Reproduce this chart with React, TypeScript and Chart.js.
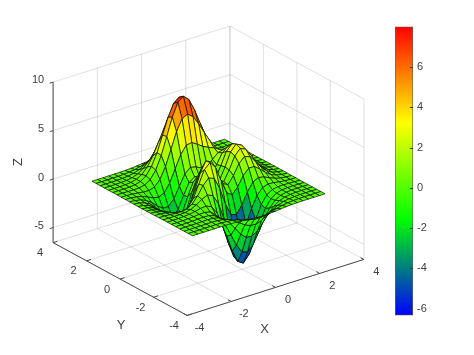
import React, { useEffect, useRef } from "react";
import { Chart, registerables } from "chart.js";

Chart.register(...registerables);

// mesh coordinates
const xValues = [-3,-2.75,-2.5,-2.25,-2,-1.75,-1.5,-1.25,-1,-0.75,-0.5,-0.25,0,0.25,0.5,0.75,1,1.25,1.5,1.75,2,2.25,2.5,2.75,3];
const yValues = [-3,-2.75,-2.5,-2.25,-2,-1.75,-1.5,-1.25,-1,-0.75,-0.5,-0.25,0,0.25,0.5,0.75,1,1.25,1.5,1.75,2,2.25,2.5,2.75,3];

// heights, one row per y value (ascending), one column per x value (ascending).
// Provenance: these are not pixel measurements. Much of the surface is hidden in
// the picture, so the shape was recognised as MATLAB's peaks surface and these
// literals were worked out by hand from it, then checked against the picture.
const zRows = [
  [0,0,0,0,0,0.01,0,-0.01,-0.03,-0.07,-0.14,-0.2,-0.24,-0.25,-0.22,-0.17,-0.11,-0.06,-0.03,-0.01,0,0,0,0,0],
  [0,0,0,0,0.01,0.01,0,-0.02,-0.1,-0.22,-0.39,-0.56,-0.68,-0.69,-0.61,-0.46,-0.3,-0.17,-0.08,-0.03,-0.01,0,0,0,0],
  [0,0,0,0.01,0.01,0.02,0,-0.07,-0.23,-0.53,-0.92,-1.31,-1.57,-1.61,-1.41,-1.06,-0.69,-0.38,-0.18,-0.08,-0.03,-0.01,0,0,0],
  [0,0,0.01,0.01,0.03,0.04,0.01,-0.12,-0.44,-1,-1.74,-2.51,-3.02,-3.1,-2.72,-2.05,-1.32,-0.73,-0.35,-0.14,-0.05,-0.01,0,0,0],
  [0,0,0.01,0.02,0.05,0.07,0.05,-0.13,-0.59,-1.45,-2.64,-3.88,-4.76,-4.93,-4.35,-3.27,-2.1,-1.15,-0.53,-0.2,-0.06,-0.01,0,0,0],
  [0,0,0.01,0.03,0.07,0.13,0.15,0.02,-0.46,-1.48,-3.01,-4.7,-5.98,-6.33,-5.64,-4.24,-2.69,-1.42,-0.61,-0.21,-0.04,0,0.01,0,0],
  [0,0,0.01,0.03,0.08,0.19,0.33,0.39,0.15,-0.68,-2.19,-4.08,-5.68,-6.33,-5.76,-4.32,-2.64,-1.27,-0.44,-0.07,0.04,0.05,0.03,0.01,0],
  [0,-0.01,-0.01,-0.01,0.03,0.17,0.45,0.84,1.11,0.88,-0.14,-1.85,-3.61,-4.6,-4.4,-3.22,-1.74,-0.56,0.08,0.27,0.23,0.13,0.06,0.02,0.01],
  [-0.01,-0.02,-0.06,-0.1,-0.13,-0.04,0.3,0.98,1.86,2.45,2.23,1,-0.72,-2.02,-2.22,-1.43,-0.27,0.58,0.88,0.77,0.5,0.26,0.11,0.04,0.01],
  [-0.02,-0.05,-0.12,-0.26,-0.42,-0.51,-0.28,0.49,1.78,3.09,3.63,2.94,1.4,-0.01,-0.41,0.2,1.18,1.79,1.78,1.35,0.82,0.42,0.18,0.06,0.02],
  [-0.03,-0.08,-0.2,-0.44,-0.8,-1.16,-1.21,-0.6,0.8,2.49,3.55,3.3,2,0.7,0.39,1.14,2.2,2.76,2.56,1.88,1.12,0.56,0.24,0.09,0.03],
  [-0.03,-0.1,-0.27,-0.6,-1.14,-1.78,-2.16,-1.84,-0.57,1.23,2.56,2.63,1.58,0.53,0.48,1.5,2.76,3.37,3.09,2.25,1.34,0.67,0.28,0.1,0.03],
  [-0.04,-0.11,-0.3,-0.69,-1.33,-2.14,-2.77,-2.71,-1.65,0.06,1.48,1.75,0.98,0.19,0.38,1.57,2.94,3.58,3.27,2.37,1.41,0.7,0.3,0.11,0.03],
  [-0.04,-0.11,-0.29,-0.68,-1.32,-2.16,-2.87,-2.98,-2.15,-0.65,0.68,1.06,0.52,-0.03,0.28,1.47,2.76,3.36,3.06,2.22,1.32,0.66,0.28,0.1,0.03],
  [-0.03,-0.09,-0.25,-0.57,-1.12,-1.85,-2.49,-2.64,-2,-0.76,0.39,0.8,0.46,0.09,0.38,1.34,2.38,2.83,2.56,1.85,1.09,0.54,0.23,0.08,0.03],
  [-0.02,-0.07,-0.18,-0.42,-0.82,-1.33,-1.76,-1.78,-1.16,-0.05,1.04,1.55,1.42,1.12,1.17,1.65,2.17,2.32,1.99,1.4,0.82,0.41,0.17,0.06,0.02],
  [-0.01,-0.04,-0.11,-0.25,-0.48,-0.74,-0.86,-0.6,0.23,1.51,2.79,3.59,3.69,3.34,2.94,2.66,2.43,2.09,1.58,1.04,0.58,0.28,0.12,0.04,0.01],
  [-0.01,-0.02,-0.06,-0.12,-0.2,-0.23,-0.05,0.55,1.69,3.29,4.92,6.07,6.39,5.94,5.02,3.97,2.97,2.09,1.35,0.79,0.41,0.19,0.07,0.03,0.01],
  [0,-0.01,-0.02,-0.03,-0.01,0.11,0.48,1.28,2.61,4.38,6.2,7.54,8,7.48,6.25,4.72,3.26,2.05,1.19,0.62,0.29,0.12,0.05,0.02,0],
  [0,0,0,0.01,0.07,0.24,0.65,1.43,2.67,4.29,5.96,7.22,7.68,7.2,5.99,4.45,2.96,1.78,0.96,0.47,0.21,0.08,0.03,0.01,0],
  [0,0,0.01,0.02,0.08,0.23,0.55,1.16,2.1,3.31,4.56,5.51,5.86,5.5,4.57,3.37,2.21,1.29,0.68,0.32,0.13,0.05,0.02,0.01,0],
  [0,0,0.01,0.02,0.06,0.16,0.36,0.74,1.32,2.07,2.84,3.43,3.65,3.43,2.84,2.09,1.36,0.79,0.41,0.19,0.08,0.03,0.01,0,0],
  [0,0,0,0.01,0.03,0.08,0.19,0.39,0.69,1.07,1.47,1.77,1.89,1.77,1.47,1.08,0.7,0.4,0.21,0.09,0.04,0.01,0,0,0],
  [0,0,0,0.01,0.01,0.04,0.08,0.17,0.3,0.47,0.64,0.77,0.82,0.77,0.64,0.47,0.3,0.17,0.09,0.04,0.02,0.01,0,0,0],
  [0,0,0,0,0.01,0.01,0.03,0.06,0.11,0.17,0.23,0.28,0.3,0.28,0.23,0.17,0.11,0.06,0.03,0.01,0.01,0,0,0,0],
];

// axes
const xTicks = [-4, -2, 0, 2, 4];
const yTicks = [-4, -2, 0, 2, 4];
const zTicks = [-5, 0, 5, 10];
const zFloor = -6.55;
const zTop = 10;
const boxMin = -4;
const boxMax = 4;

// colour bar
const colorbarTicks = [-6, -4, -2, 0, 2, 4, 6];
const colorMin = -6.33;
const colorMax = 8;
const colormap = [
  [0, 0, 255],
  [0, 255, 0],
  [255, 255, 0],
  [255, 0, 0],
];

const FONT = "'Liberation Sans', Arial, sans-serif";
const TEXT = "#404040";
const GRID = "rgba(60,60,60,0.16)";
const AXIS = "#4a4a4a";
const EDGE = "rgba(10,20,0,0.8)";

// fixed oblique view: one data unit on each axis in canvas units
const view = { cx: 208.5, cy: 187.5, xx: 22.1, xy: 7, yx: 16.75, yy: 9.1, zy: 9.7 };
const project = (x: number, y: number, z: number) => ({
  x: view.cx + view.xx * x - view.yx * y,
  y: view.cy - view.xy * x - view.yy * y - view.zy * z,
});

const colorFor = (v: number) => {
  const t = Math.min(1, Math.max(0, (v - colorMin) / (colorMax - colorMin))) * (colormap.length - 1);
  const i = Math.min(colormap.length - 2, Math.floor(t));
  const f = t - i;
  const c = colormap[i].map((a, k) => Math.round(a + (colormap[i + 1][k] - a) * f));
  return `rgb(${c[0]},${c[1]},${c[2]})`;
};

const lineSet = (pts: number[][], color: string, width: number, order: number) => ({
  data: pts.map((p) => project(p[0], p[1], p[2])),
  borderColor: color,
  borderWidth: width,
  pointRadius: 0,
  fill: false,
  order,
  clip: false,
});

function buildDatasets() {
  const sets: any[] = [];
  // wall and floor grid
  const B = 100000;
  for (const z of zTicks) {
    sets.push(lineSet([[boxMin, boxMax, z], [boxMax, boxMax, z], [boxMax, boxMin, z]], GRID, 1, B));
  }
  for (const x of xTicks) {
    sets.push(lineSet([[x, boxMin, zFloor], [x, boxMax, zFloor], [x, boxMax, zTop]], GRID, 1, B));
  }
  for (const y of yTicks) {
    sets.push(lineSet([[boxMin, y, zFloor], [boxMax, y, zFloor], [boxMax, y, zTop]], GRID, 1, B));
  }
  // axis rulers
  sets.push(lineSet([[boxMin, boxMin, zFloor], [boxMax, boxMin, zFloor]], AXIS, 1, B - 1));
  sets.push(lineSet([[boxMin, boxMin, zFloor], [boxMin, boxMax, zFloor]], AXIS, 1, B - 1));
  sets.push(lineSet([[boxMin, boxMax, zFloor], [boxMin, boxMax, zTop]], AXIS, 1, B - 1));
  for (const x of xTicks) sets.push(lineSet([[x, boxMin, zFloor], [x, boxMin + 0.2, zFloor]], AXIS, 1, B - 1));
  for (const y of yTicks) sets.push(lineSet([[boxMin, y, zFloor], [boxMin + 0.2, y, zFloor]], AXIS, 1, B - 1));
  for (const z of zTicks) sets.push(lineSet([[boxMin, boxMax, z], [boxMin - 0.15, boxMax, z]], AXIS, 1, B - 1));

  // surface, far cells first
  let order = B - 2;
  for (let j = yValues.length - 2; j >= 0; j--) {
    for (let i = xValues.length - 2; i >= 0; i--) {
      const pts = [
        [xValues[i], yValues[j], zRows[j][i]],
        [xValues[i + 1], yValues[j], zRows[j][i + 1]],
        [xValues[i + 1], yValues[j + 1], zRows[j + 1][i + 1]],
        [xValues[i], yValues[j + 1], zRows[j + 1][i]],
        [xValues[i], yValues[j], zRows[j][i]],
      ];
      sets.push({
        ...lineSet(pts, EDGE, 0.9, order--),
        fill: "shape",
        backgroundColor: colorFor(zRows[j][i]),
        borderJoinStyle: "round",
      });
    }
  }
  return sets;
}

const labelsPlugin = {
  id: "axisText",
  afterDraw(chart: any) {
    const { ctx, scales } = chart;
    const put = (text: string, p: { x: number; y: number }, dx: number, dy: number, size: number, rot = 0) => {
      ctx.save();
      ctx.translate(scales.x.getPixelForValue(p.x) + dx, scales.y.getPixelForValue(p.y) + dy);
      ctx.rotate(rot);
      ctx.font = `${size}px ${FONT}`;
      ctx.fillStyle = TEXT;
      ctx.textAlign = "center";
      ctx.textBaseline = "middle";
      ctx.fillText(text, 0, 0);
      ctx.restore();
    };
    for (const x of xTicks) put(String(x), project(x, boxMin, zFloor), 12.5, 12.5, 11);
    for (const y of yTicks) put(String(y), project(boxMin, y, zFloor), -13, 10.5, 11);
    for (const z of zTicks) put(String(z), project(boxMin, boxMax, z), z === 10 ? -15 : z === -5 ? -14 : -12, z === 10 ? -2.5 : -1.5, 11);
    put("X", project(0, boxMin, zFloor), -11, 42, 13);
    put("Y", project(boxMin, 0, zFloor), 1, 46, 13);
    put("Z", project(boxMin, boxMax, 0), -35, -17, 13, -Math.PI / 2);
  },
};

const barTicksPlugin = {
  id: "barTicks",
  afterDraw(chart: any) {
    const { ctx, scales, chartArea } = chart;
    ctx.save();
    ctx.strokeStyle = "#3a3a3a";
    ctx.lineWidth = 1;
    for (const v of colorbarTicks) {
      const y = Math.round(scales.y.getPixelForValue(v)) + 0.5;
      ctx.beginPath();
      ctx.moveTo(chartArea.right - 3, y);
      ctx.lineTo(chartArea.right, y);
      ctx.stroke();
    }
    ctx.restore();
  },
};

export default function App() {
  const mainRef = useRef<HTMLCanvasElement>(null);
  const barRef = useRef<HTMLCanvasElement>(null);

  useEffect(() => {
    const main = new Chart(mainRef.current as HTMLCanvasElement, {
      type: "line",
      data: { datasets: buildDatasets() },
      plugins: [labelsPlugin],
      options: {
        animation: false,
        responsive: false,
        devicePixelRatio: 1,
        events: [],
        layout: { padding: 0 },
        scales: {
          x: { type: "linear", min: 0, max: 474, display: false },
          y: { type: "linear", min: 0, max: 355, reverse: true, display: false },
        },
        plugins: {
          legend: { display: false },
          tooltip: { enabled: false },
          filler: { drawTime: "beforeDatasetDraw", propagate: false },
        },
      },
    } as any);

    const bar = new Chart(barRef.current as HTMLCanvasElement, {
      type: "bar",
      data: {
        labels: ["colour"],
        datasets: [
          {
            data: [[colorMin, colorMax]],
            barPercentage: 1,
            categoryPercentage: 1,
            borderWidth: 1,
            borderSkipped: false,
            borderColor: "rgba(40,50,40,0.75)",
            backgroundColor: (c: any) => {
              const { ctx, chartArea } = c.chart;
              if (!chartArea) return "#0f0";
              const g = ctx.createLinearGradient(0, chartArea.bottom, 0, chartArea.top);
              colormap.forEach((m, i) => g.addColorStop(i / (colormap.length - 1), `rgb(${m[0]},${m[1]},${m[2]})`));
              return g;
            },
          },
        ],
      },
      plugins: [barTicksPlugin],
      options: {
        animation: false,
        responsive: false,
        devicePixelRatio: 1,
        events: [],
        layout: { padding: { top: 10, bottom: 10, left: 0, right: 0 } },
        scales: {
          x: { display: false },
          y: {
            position: "right",
            min: colorMin,
            max: colorMax,
            afterBuildTicks: (s: any) => {
              s.ticks = colorbarTicks.map((value) => ({ value }));
            },
            afterFit: (s: any) => {
              s.width = 61;
            },
            border: { display: false },
            grid: { drawOnChartArea: false, drawTicks: false },
            ticks: { color: TEXT, padding: 4, font: { family: FONT, size: 11 } },
          },
        },
        plugins: { legend: { display: false }, tooltip: { enabled: false } },
      },
    } as any);

    return () => {
      main.destroy();
      bar.destroy();
    };
  }, []);

  return (
    <div style={{ position: "absolute", left: 0, top: 0, width: 474, height: 355, background: "#fff", overflow: "hidden" }}>
      <canvas ref={mainRef} width={474} height={355} style={{ position: "absolute", left: 0, top: 0 }} />
      <canvas ref={barRef} width={79} height={310} style={{ position: "absolute", left: 395, top: 16 }} />
    </div>
  );
}
